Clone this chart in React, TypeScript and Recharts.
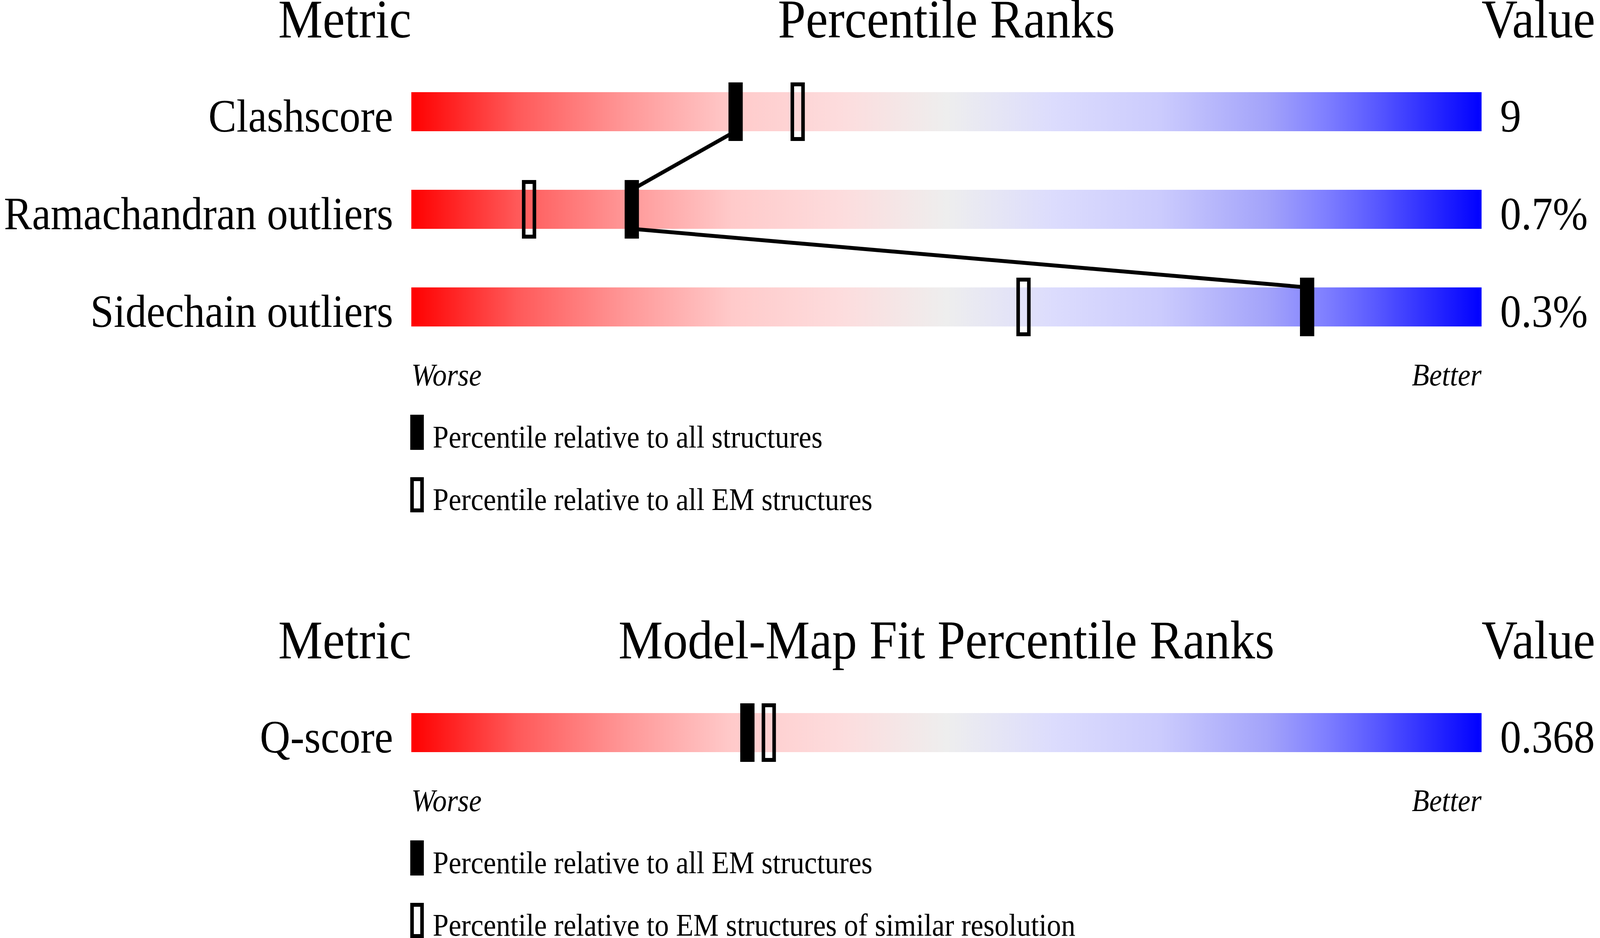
import React from 'react';
import { ScatterChart, Scatter, XAxis, YAxis, ReferenceArea } from 'recharts';

// ---------- data ----------
const validationMetrics = ['Clashscore', 'Ramachandran outliers', 'Sidechain outliers'];
const validationValues = ['9', '0.7%', '0.3%'];
const validationAllStructures = [30.3, 20.6, 83.7];
const validationAllEM = [36.1, 11.0, 57.2];
const validationLegend = ['Percentile relative to all structures', 'Percentile relative to all EM structures'];

const fitMetrics = ['Q-score'];
const fitValues = ['0.368'];
const fitAllEM = [31.4];
const fitSimilarResolution = [33.4];
const fitLegend = ['Percentile relative to all EM structures', 'Percentile relative to EM structures of similar resolution'];

const headerLabels = ['Metric', 'Value'];
const validationTitle = 'Percentile Ranks';
const fitTitle = 'Model-Map Fit Percentile Ranks';
const axisEndLabels = ['Worse', 'Better'];

// ---------- style ----------
const FONT = '"Liberation Serif", "Times New Roman", serif';
const W = 4485;
const H = 2402;
const LEFT = 1153;
const RIGHT_W = 332;
const TOP = 161;
const ROW = 250;
const XAXIS_H = 89;
const BOTTOM_PAD = 40;
const SECTION_TOPS = [0, 1590];
const gradientStops: [number, string][] = [
  [0, '#ff0000'],
  [0.1, '#ff5a5a'],
  [0.2, '#ff9797'],
  [0.3, '#ffcaca'],
  [0.4, '#fddcdd'],
  [0.5, '#eeeeee'],
  [0.6, '#dcdcfd'],
  [0.7, '#cbcbfd'],
  [0.8, '#a3a3fa'],
  [0.85, '#8282ff'],
  [0.9, '#5a5aff'],
  [1, '#0000ff'],
];

const EmptyShape = () => <g />;

const FilledMarker = (p: any) => (
  <rect x={p.cx - 20} y={p.cy - 75} width={40} height={150} fill="#000" />
);
const HollowMarker = (p: any) => (
  <rect x={p.cx - 15} y={p.cy - 70} width={30} height={140} fill="none" stroke="#000" strokeWidth={10} />
);

type ChartProps = {
  id: string;
  top: number;
  metrics: string[];
  values: string[];
  filled: number[];
  hollow: number[];
  connect: boolean;
};

function PercentileChart({ id, top, metrics, values, filled, hollow, connect }: ChartProps) {
  const n = metrics.length;
  const chartH = TOP + ROW * n + XAXIS_H + BOTTOM_PAD;
  const rows = metrics.map((_, i) => i);
  const filledPts = filled.map((v, i) => ({ x: v, y: i }));
  const hollowPts = hollow.map((v, i) => ({ x: v, y: i }));
  const linePts = filled.flatMap((v, i) => [
    { x: v, y: i - 0.2 },
    { x: v, y: i + 0.2 },
  ]);

  const leftTick = (p: any) => (
    <text x={p.x} y={p.y} dy={51} textAnchor="end" fontSize={118} fontFamily={FONT} fill="#000">
      {metrics[p.payload.value]}
    </text>
  );
  const rightTick = (p: any) => (
    <text x={p.x} y={p.y} dy={51} textAnchor="start" fontSize={118} fontFamily={FONT} fill="#000">
      {values[p.payload.value]}
    </text>
  );
  const bottomTick = (p: any) => (
    <text
      x={p.x}
      y={p.y}
      dy={76}
      textAnchor={p.payload.value === 0 ? 'start' : 'end'}
      fontSize={80}
      fontStyle="italic"
      fontFamily={FONT}
      fill="#000"
    >
      {p.payload.value === 0 ? axisEndLabels[0] : axisEndLabels[1]}
    </text>
  );

  return (
    <div style={{ position: 'absolute', left: 0, top, width: W, height: chartH }}>
      <ScatterChart width={W} height={chartH} margin={{ top: TOP, right: 0, bottom: BOTTOM_PAD, left: 0 }}>
        <defs>
          <linearGradient id={`grad-${id}`} x1="0" y1="0" x2="1" y2="0">
            {gradientStops.map(([o, c]) => (
              <stop key={o} offset={o} stopColor={c} />
            ))}
          </linearGradient>
        </defs>
        <XAxis
          type="number"
          dataKey="x"
          domain={[0, 100]}
          ticks={[0, 100]}
          interval={0}
          height={XAXIS_H}
          axisLine={false}
          tickLine={false}
          tickSize={0}
          tickMargin={0}
          tick={bottomTick}
          allowDataOverflow
        />
        <YAxis
          yAxisId="left"
          orientation="left"
          type="number"
          dataKey="y"
          domain={[-0.5, n - 0.5]}
          reversed
          ticks={rows}
          interval={0}
          width={LEFT}
          axisLine={false}
          tickLine={false}
          tickSize={0}
          tickMargin={51}
          tick={leftTick}
          allowDataOverflow
        />
        <YAxis
          yAxisId="right"
          orientation="right"
          type="number"
          domain={[-0.5, n - 0.5]}
          reversed
          ticks={rows}
          interval={0}
          width={RIGHT_W}
          axisLine={false}
          tickLine={false}
          tickSize={0}
          tickMargin={52}
          tick={rightTick}
          allowDataOverflow
        />
        {rows.map((i) => (
          <ReferenceArea
            key={i}
            yAxisId="left"
            x1={0}
            x2={100}
            y1={i - 0.2}
            y2={i + 0.2}
            fill={`url(#grad-${id})`}
            fillOpacity={1}
            stroke="none"
            ifOverflow="visible"
          />
        ))}
        {connect && (
          <Scatter
            yAxisId="left"
            data={linePts}
            line={{ stroke: '#000', strokeWidth: 10 }}
            shape={EmptyShape}
            isAnimationActive={false}
          />
        )}
        <Scatter yAxisId="left" data={hollowPts} shape={HollowMarker} isAnimationActive={false} />
        <Scatter yAxisId="left" data={filledPts} shape={FilledMarker} isAnimationActive={false} />
      </ScatterChart>
    </div>
  );
}

function SectionText({ top, rows, title, legend }: { top: number; rows: number; title: string; legend: string[] }) {
  const plotBottom = top + TOP + ROW * rows;
  return (
    <g>
      <text x={LEFT} y={top + 96} fontSize={140} textAnchor="end" fill="#000">
        {headerLabels[0]}
      </text>
      <text x={(LEFT + W - RIGHT_W) / 2} y={top + 96} fontSize={140} textAnchor="middle" fill="#000">
        {title}
      </text>
      <text x={W - RIGHT_W} y={top + 96} fontSize={140} textAnchor="start" fill="#000">
        {headerLabels[1]}
      </text>
      <rect x={1150} y={plotBottom + 151} width={38} height={90} fill="#000" />
      <text x={1213} y={plotBottom + 235} fontSize={80} fill="#000">
        {legend[0]}
      </text>
      <rect x={1155} y={plotBottom + 316} width={28} height={80} fill="none" stroke="#000" strokeWidth={10} />
      <text x={1213} y={plotBottom + 395} fontSize={80} fill="#000">
        {legend[1]}
      </text>
    </g>
  );
}

export default function App() {
  // The browser may give a viewport narrower than the 4485px design; fit the page into it.
  const vw = typeof window !== 'undefined' ? window.innerWidth : W;
  const vh = typeof window !== 'undefined' ? window.innerHeight : H;
  const sx = vw > 0 && vw < W ? vw / W : 1;
  const sy = vh > 0 && vh < H ? vh / H : 1;
  return (
    <div
      style={{
        position: 'fixed',
        left: 0,
        top: 0,
        width: '100vw',
        height: '100vh',
        overflow: 'hidden',
        background: '#fff',
      }}
    >
      <div
        style={{
          position: 'absolute',
          left: 0,
          top: 0,
          width: W,
          height: H,
          background: '#fff',
          fontFamily: FONT,
          transform: `scale(${sx}, ${sy})`,
          transformOrigin: '0 0',
        }}
      >
        <PercentileChart
          id="val"
          top={SECTION_TOPS[0]}
          metrics={validationMetrics}
          values={validationValues}
          filled={validationAllStructures}
          hollow={validationAllEM}
          connect
        />
        <PercentileChart
          id="fit"
          top={SECTION_TOPS[1]}
          metrics={fitMetrics}
          values={fitValues}
          filled={fitAllEM}
          hollow={fitSimilarResolution}
          connect={false}
        />
        <svg
          width={W}
          height={H}
          style={{ position: 'absolute', left: 0, top: 0, pointerEvents: 'none', overflow: 'visible' }}
          fontFamily={FONT}
        >
          <SectionText top={SECTION_TOPS[0]} rows={validationMetrics.length} title={validationTitle} legend={validationLegend} />
          <SectionText top={SECTION_TOPS[1]} rows={fitMetrics.length} title={fitTitle} legend={fitLegend} />
        </svg>
      </div>
    </div>
  );
}
